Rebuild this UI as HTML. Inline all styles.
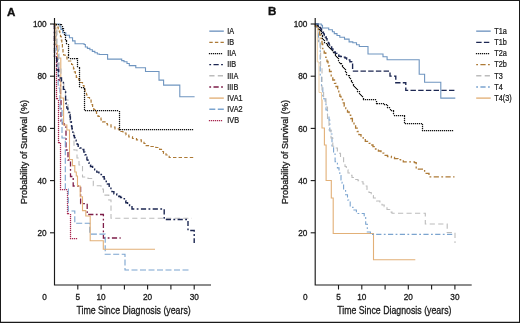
<!DOCTYPE html>
<html><head><meta charset="utf-8"><title>Survival curves</title>
<style>html,body{margin:0;padding:0;background:#fff;}svg{display:block;will-change:transform;font-family:"Liberation Sans",sans-serif;}</style>
</head><body>
<svg width="520" height="323" viewBox="0 0 520 323">
<rect x="0" y="0" width="520" height="323" fill="#fff"/>
<text x="7.0" y="15.5" font-size="11.6" font-weight="bold" fill="#111" stroke="#111" stroke-width="0.35" font-family="Liberation Sans, sans-serif">A</text>
<text x="268.0" y="15.3" font-size="11.6" font-weight="bold" fill="#111" stroke="#111" stroke-width="0.35" font-family="Liberation Sans, sans-serif">B</text>
<path d="M53.88,23.88h1.25v1.25h-1.25zM53.88,25.88h1.25v1.25h-1.25zM53.88,27.88h1.25v1.25h-1.25zM53.88,29.88h1.25v1.25h-1.25zM53.88,31.88h1.25v1.25h-1.25zM53.88,33.88h1.25v1.25h-1.25zM53.88,35.88h1.25v1.25h-1.25zM53.88,37.88h1.25v1.25h-1.25zM53.88,39.88h1.25v1.25h-1.25zM53.88,41.88h1.25v1.25h-1.25zM53.88,43.88h1.25v1.25h-1.25zM53.88,45.88h1.25v1.25h-1.25zM53.88,47.88h1.25v1.25h-1.25zM53.88,49.88h1.25v1.25h-1.25zM53.88,51.88h1.25v1.25h-1.25zM53.88,53.88h1.25v1.25h-1.25zM53.88,55.88h1.25v1.25h-1.25zM55.88,55.88h1.25v1.25h-1.25zM55.88,57.88h1.25v1.25h-1.25zM55.88,59.88h1.25v1.25h-1.25zM55.88,61.88h1.25v1.25h-1.25zM55.88,63.88h1.25v1.25h-1.25zM55.88,65.88h1.25v1.25h-1.25zM55.88,67.88h1.25v1.25h-1.25zM55.88,69.88h1.25v1.25h-1.25zM55.88,71.88h1.25v1.25h-1.25zM55.88,73.88h1.25v1.25h-1.25zM55.88,75.88h1.25v1.25h-1.25zM55.88,77.88h1.25v1.25h-1.25zM55.88,79.88h1.25v1.25h-1.25zM55.88,81.88h1.25v1.25h-1.25zM55.88,83.88h1.25v1.25h-1.25zM55.88,85.88h1.25v1.25h-1.25zM55.88,87.88h1.25v1.25h-1.25zM55.88,89.88h1.25v1.25h-1.25zM55.88,91.88h1.25v1.25h-1.25zM55.88,93.88h1.25v1.25h-1.25zM55.88,95.88h1.25v1.25h-1.25zM55.88,97.88h1.25v1.25h-1.25zM56.88,97.88h1.25v1.25h-1.25zM57.88,99.88h1.25v1.25h-1.25zM57.88,101.88h1.25v1.25h-1.25zM57.88,103.88h1.25v1.25h-1.25zM57.88,105.88h1.25v1.25h-1.25zM57.88,107.88h1.25v1.25h-1.25zM57.88,109.88h1.25v1.25h-1.25zM57.88,111.88h1.25v1.25h-1.25zM57.88,113.88h1.25v1.25h-1.25zM57.88,115.88h1.25v1.25h-1.25zM57.88,117.88h1.25v1.25h-1.25zM57.88,119.88h1.25v1.25h-1.25zM57.88,121.88h1.25v1.25h-1.25zM57.88,123.88h1.25v1.25h-1.25zM57.88,125.88h1.25v1.25h-1.25zM57.88,127.88h1.25v1.25h-1.25zM57.88,129.88h1.25v1.25h-1.25zM57.88,131.88h1.25v1.25h-1.25zM57.88,133.88h1.25v1.25h-1.25zM57.88,135.88h1.25v1.25h-1.25zM57.88,137.88h1.25v1.25h-1.25zM57.88,139.88h1.25v1.25h-1.25zM57.88,141.88h1.25v1.25h-1.25zM58.88,141.88h1.25v1.25h-1.25zM59.88,142.88h1.25v1.25h-1.25zM59.88,144.88h1.25v1.25h-1.25zM59.88,146.88h1.25v1.25h-1.25zM59.88,148.88h1.25v1.25h-1.25zM59.88,150.88h1.25v1.25h-1.25zM59.88,152.88h1.25v1.25h-1.25zM59.88,154.88h1.25v1.25h-1.25zM59.88,156.88h1.25v1.25h-1.25zM59.88,158.88h1.25v1.25h-1.25zM59.88,160.88h1.25v1.25h-1.25zM59.88,162.88h1.25v1.25h-1.25zM59.88,164.88h1.25v1.25h-1.25zM59.88,166.88h1.25v1.25h-1.25zM59.88,168.88h1.25v1.25h-1.25zM59.88,170.88h1.25v1.25h-1.25zM59.88,172.88h1.25v1.25h-1.25zM59.88,174.88h1.25v1.25h-1.25zM59.88,176.88h1.25v1.25h-1.25zM59.88,178.88h1.25v1.25h-1.25zM59.88,180.88h1.25v1.25h-1.25zM59.88,182.88h1.25v1.25h-1.25zM59.88,184.88h1.25v1.25h-1.25zM59.88,186.88h1.25v1.25h-1.25zM59.88,188.88h1.25v1.25h-1.25zM61.88,188.88h1.25v1.25h-1.25zM63.88,188.88h1.25v1.25h-1.25zM65.88,188.88h1.25v1.25h-1.25zM66.88,190.88h1.25v1.25h-1.25zM66.88,192.88h1.25v1.25h-1.25zM66.88,194.88h1.25v1.25h-1.25zM66.88,196.88h1.25v1.25h-1.25zM66.88,198.88h1.25v1.25h-1.25zM66.88,200.88h1.25v1.25h-1.25zM66.88,202.88h1.25v1.25h-1.25zM66.88,204.88h1.25v1.25h-1.25zM66.88,206.88h1.25v1.25h-1.25zM66.88,208.88h1.25v1.25h-1.25zM66.88,210.88h1.25v1.25h-1.25zM66.88,212.88h1.25v1.25h-1.25zM67.88,212.88h1.25v1.25h-1.25zM69.88,213.88h1.25v1.25h-1.25zM69.88,215.88h1.25v1.25h-1.25zM69.88,217.88h1.25v1.25h-1.25zM69.88,219.88h1.25v1.25h-1.25zM69.88,221.88h1.25v1.25h-1.25zM69.88,223.88h1.25v1.25h-1.25zM69.88,225.88h1.25v1.25h-1.25zM69.88,227.88h1.25v1.25h-1.25zM69.88,229.88h1.25v1.25h-1.25zM69.88,231.88h1.25v1.25h-1.25zM69.88,233.88h1.25v1.25h-1.25zM69.88,235.88h1.25v1.25h-1.25zM69.88,237.88h1.25v1.25h-1.25zM71.88,237.88h1.25v1.25h-1.25zM73.88,237.88h1.25v1.25h-1.25zM75.88,237.88h1.25v1.25h-1.25z" fill="#a8264f"/>
<path d="M54.5,24 V46 H57 V64 H58.6 V80 H60.5 V100 H61 V121 H63 V124 H64.4 V127 H66 V150 H68 V160 H70.5 V176.5 H73.2 V186 H80.6 V203.6 H87.2 V214.5 H103.4 V238 H120.7" fill="none" stroke="#7d1d48" stroke-width="1.3" stroke-dasharray="5.2 2.4 1.8 2.4"/>
<path d="M54.5,24 V30 H56.5 V50 H58.2 V88 H60 V110 H62 V138 H65.3 V189 H68.3 V211 H74.8 V223.3 H89.8 V234.1 H105.2 V254.3 H125 V270 H190" fill="none" stroke="#7ba4cf" stroke-width="1.1" stroke-dasharray="6 2.5"/>
<path d="M54.5,24 V28 H56 V45 H57.5 V58 H60.8 V98 H63.6 V125 H66.9 V130 H69.5 V159.5 H72.4 V165.6 H74.8 V172 H76.3 V176 H77.5 V186 H80.2 V196.7 H82.5 V210.6 H85.8 V216 H90.2 V240.7 H103.3 V249.3 H155" fill="none" stroke="#e2b077" stroke-width="1.1"/>
<path d="M54.5,24 V30 H57 V45 H59 V68 H61 V81 H63.8 V90 H65.5 V100 H68 V113 H70 V122 H72 V130 H74 V150 H77 V158 H79 V165 H82.5 V177 H88 V178.5 H93.3 V185.8 H101 V189 H103.4 V195.1 H108.8 V200 H111 V218.3 H192" fill="none" stroke="#bcbcbc" stroke-width="1.1" stroke-dasharray="5.2 3.3"/>
<path d="M54.5,24 H59.5 H59.98 V26.75 H60.92 V29.50 H61.4 H62.65 V32.70 H63.9 H65.75 V35.30 H67.6 H69.45 V37.80 H71.3 H72.55 V40.90 H73.8 H75.05 V43.80 H76.3 H83.7 H84.10 V44.50 H84.5 H85.35 V47.00 H86.2 H87.42 V48.40 H89.88 V49.80 H91.1 H92.35 V51.40 H93.6 H94.85 V52.70 H97.35 V54.00 H98.6 H99.30 V54.50 H100 H107.6 V59.1 H121.7 V60.6 H124 V61.7 H127 V63.5 H129.3 V65.6 H135.8 V67.8 H145.5 V71.5 H159 V80.1 H163.6 V85.1 H179.8 V96.8 H194.6" fill="none" stroke="#6f95c0" stroke-width="1.1"/>
<path d="M54.5,24 V58 H56.8 V70 H58.6 V78 H61.5 V81 H63.4 V89.4 H65.6 V100 H65.77 V103.00 H66.12 V106.00 H66.3 H66.82 V108.13 H67.85 V110.27 H68.88 V112.40 H69.4 H69.60 V114.73 H70.00 V117.05 H70.40 V119.38 H70.80 V121.70 H71 H71.19 V124.03 H71.56 V126.35 H71.94 V128.68 H72.31 V131.00 H72.5 H72.89 V133.30 H73.66 V135.60 H74.44 V137.90 H75.21 V140.20 H75.6 H76.12 V142.27 H77.15 V144.33 H78.18 V146.40 H78.7 H79.85 V147.95 H82.15 V149.50 H83.3 H83.82 V152.10 H84.85 V154.70 H85.88 V157.30 H86.4 H86.92 V159.87 H87.95 V162.43 H88.98 V165.00 H89.5 H90.53 V166.57 H92.60 V168.13 H94.67 V169.70 H95.7 H96.78 V172.10 H98.92 V174.50 H100 H101.40 V176.75 H104.20 V179.00 H105.6 H106.20 V181.50 H107.40 V184.00 H108 H109.20 V187.40 H110.4 H110.93 V189.50 H111.97 V191.60 H112.5 H113.90 V193.70 H116.70 V195.80 H118.1 H118.80 V196.50 H119.5 H120.55 V197.55 H122.65 V198.60 H123.7 H124.40 V200.65 H125.80 V202.70 H126.5 H127.53 V204.10 H129.57 V205.50 H130.6 H132.00 V209.00 H133.4 H164.2 V219.5 H188 V230.5 H194.2 V243" fill="none" stroke="#1c2752" stroke-width="1.4" stroke-dasharray="5.2 2.4 1.8 2.4"/>
<path d="M54.5,24 H56 V25.5 H57.4 V27 H58.2 V29 H59 V31 H59.8 V33.5 H60.5 V36.5 H61.2 V40 H61.8 V44 H62.4 V48 H63 V52 H63.6 V55 H65.1 V57 H67 V59 H68.5 V61 H70.7 V62.5 H71.6 V64.5 H72.6 V66.3 H73.5 V69 H74.4 V71.8 H75.4 V74.5 H76.3 V77.4 H78.8 V79.8 H80.5 V82.5 H82.5 V85.5 H84 V89 H85 V92.2 H86.5 V95 H88 V97.5 H89.5 V100.1 H91.1 V104.6 H92.6 V107 H93.8 V109.5 H94.9 V111.5 H96.5 V113.5 H98 V116.4 H100 V118 H101 V120 H102.6 V121.8 H105 V123.5 H107.3 V124.9 H111 V127 H115 V128.8 H119.2 V130.2 H121 V131.5 H123 V133 H126 V135 H128.8 V136.9 H132.5 V138.5 H136.5 V139.8 H141.3 V141.7 H144 V143.5 H146.2 V145.6 H150 V146.5 H155.8 V147.5 H159.6 V149.4 H161.5 V151.5 H163.5 V153.3 H166 V155 H169.2 V157.5 H194.5" fill="none" stroke="#ad7a36" stroke-width="1.2" stroke-dasharray="3.4 2.2"/>
<path d="M53.88,23.88h1.25v1.25h-1.25zM55.88,23.88h1.25v1.25h-1.25zM57.88,23.88h1.25v1.25h-1.25zM59.88,23.88h1.25v1.25h-1.25zM60.88,23.88h1.25v1.25h-1.25zM61.88,25.88h1.25v1.25h-1.25zM61.88,27.88h1.25v1.25h-1.25zM62.88,27.88h1.25v1.25h-1.25zM62.88,29.88h1.25v1.25h-1.25zM63.88,31.88h1.25v1.25h-1.25zM63.88,33.88h1.25v1.25h-1.25zM64.88,34.88h1.25v1.25h-1.25zM64.88,36.88h1.25v1.25h-1.25zM64.88,38.88h1.25v1.25h-1.25zM65.88,39.88h1.25v1.25h-1.25zM65.88,40.88h1.25v1.25h-1.25zM65.88,42.88h1.25v1.25h-1.25zM67.88,43.88h1.25v1.25h-1.25zM67.88,45.88h1.25v1.25h-1.25zM67.88,47.88h1.25v1.25h-1.25zM67.88,49.88h1.25v1.25h-1.25zM67.88,51.88h1.25v1.25h-1.25zM67.88,53.88h1.25v1.25h-1.25zM67.88,54.88h1.25v1.25h-1.25zM67.88,56.88h1.25v1.25h-1.25zM69.88,57.88h1.25v1.25h-1.25zM71.88,57.88h1.25v1.25h-1.25zM73.88,57.88h1.25v1.25h-1.25zM75.88,57.88h1.25v1.25h-1.25zM76.88,57.88h1.25v1.25h-1.25zM76.88,59.88h1.25v1.25h-1.25zM76.88,61.88h1.25v1.25h-1.25zM76.88,63.88h1.25v1.25h-1.25zM76.88,65.88h1.25v1.25h-1.25zM78.88,66.88h1.25v1.25h-1.25zM78.88,67.88h1.25v1.25h-1.25zM78.88,69.88h1.25v1.25h-1.25zM78.88,71.88h1.25v1.25h-1.25zM78.88,73.88h1.25v1.25h-1.25zM78.88,75.88h1.25v1.25h-1.25zM78.88,77.88h1.25v1.25h-1.25zM78.88,79.88h1.25v1.25h-1.25zM78.88,81.88h1.25v1.25h-1.25zM78.88,83.88h1.25v1.25h-1.25zM78.88,85.88h1.25v1.25h-1.25zM80.88,86.88h1.25v1.25h-1.25zM82.88,86.88h1.25v1.25h-1.25zM83.88,87.88h1.25v1.25h-1.25zM83.88,88.88h1.25v1.25h-1.25zM83.88,90.88h1.25v1.25h-1.25zM83.88,92.88h1.25v1.25h-1.25zM83.88,94.88h1.25v1.25h-1.25zM83.88,96.88h1.25v1.25h-1.25zM83.88,98.88h1.25v1.25h-1.25zM83.88,100.88h1.25v1.25h-1.25zM83.88,102.88h1.25v1.25h-1.25zM83.88,104.88h1.25v1.25h-1.25zM83.88,106.88h1.25v1.25h-1.25zM83.88,108.88h1.25v1.25h-1.25zM84.88,109.88h1.25v1.25h-1.25zM86.88,109.88h1.25v1.25h-1.25zM88.88,109.88h1.25v1.25h-1.25zM90.88,109.88h1.25v1.25h-1.25zM92.88,109.88h1.25v1.25h-1.25zM94.88,109.88h1.25v1.25h-1.25zM96.88,109.88h1.25v1.25h-1.25zM98.88,109.88h1.25v1.25h-1.25zM100.88,109.88h1.25v1.25h-1.25zM102.88,109.88h1.25v1.25h-1.25zM104.88,109.88h1.25v1.25h-1.25zM106.88,109.88h1.25v1.25h-1.25zM108.88,109.88h1.25v1.25h-1.25zM110.88,109.88h1.25v1.25h-1.25zM112.88,109.88h1.25v1.25h-1.25zM114.88,109.88h1.25v1.25h-1.25zM116.88,109.88h1.25v1.25h-1.25zM118.88,110.88h1.25v1.25h-1.25zM118.88,112.88h1.25v1.25h-1.25zM118.88,114.88h1.25v1.25h-1.25zM118.88,116.88h1.25v1.25h-1.25zM118.88,118.88h1.25v1.25h-1.25zM118.88,120.88h1.25v1.25h-1.25zM118.88,122.88h1.25v1.25h-1.25zM118.88,124.88h1.25v1.25h-1.25zM118.88,126.88h1.25v1.25h-1.25zM118.88,128.88h1.25v1.25h-1.25zM119.88,128.88h1.25v1.25h-1.25zM121.88,128.88h1.25v1.25h-1.25zM123.88,128.88h1.25v1.25h-1.25zM125.88,128.88h1.25v1.25h-1.25zM127.88,128.88h1.25v1.25h-1.25zM129.88,128.88h1.25v1.25h-1.25zM131.88,128.88h1.25v1.25h-1.25zM133.88,128.88h1.25v1.25h-1.25zM135.88,128.88h1.25v1.25h-1.25zM137.88,128.88h1.25v1.25h-1.25zM139.88,128.88h1.25v1.25h-1.25zM141.88,128.88h1.25v1.25h-1.25zM143.88,128.88h1.25v1.25h-1.25zM145.88,128.88h1.25v1.25h-1.25zM147.88,128.88h1.25v1.25h-1.25zM149.88,128.88h1.25v1.25h-1.25zM151.88,128.88h1.25v1.25h-1.25zM153.88,128.88h1.25v1.25h-1.25zM155.88,128.88h1.25v1.25h-1.25zM157.88,128.88h1.25v1.25h-1.25zM159.88,128.88h1.25v1.25h-1.25zM161.88,128.88h1.25v1.25h-1.25zM163.88,128.88h1.25v1.25h-1.25zM165.88,128.88h1.25v1.25h-1.25zM167.88,128.88h1.25v1.25h-1.25zM169.88,128.88h1.25v1.25h-1.25zM171.88,128.88h1.25v1.25h-1.25zM173.88,128.88h1.25v1.25h-1.25zM175.88,128.88h1.25v1.25h-1.25zM177.88,128.88h1.25v1.25h-1.25zM179.88,128.88h1.25v1.25h-1.25zM181.88,128.88h1.25v1.25h-1.25zM183.88,128.88h1.25v1.25h-1.25zM185.88,128.88h1.25v1.25h-1.25zM187.88,128.88h1.25v1.25h-1.25zM189.88,128.88h1.25v1.25h-1.25zM191.88,128.88h1.25v1.25h-1.25z" fill="#111111"/>
<path d="M321.5,100 H322 V128 H324.4 V145 H326.1 V180.5 H331.3 V198 H333.2 V233.5 H373.5 V259.8 H415.3" fill="none" stroke="#e2b077" stroke-width="1.1"/>
<path d="M315.2,24 H317.3 V62 H319 V92.5 H321.5 V100.5" fill="none" stroke="#efcfa5" stroke-width="1.0"/>
<path d="M315.2,24 H316.5 V27 H318.5 V42 H320.2 V75 H321.5 V86 H322.8 V98.7 H325.2 V104 H326 V110 H327.5 V115.5 H329 V120.1 H329.8 V131 H331.3 V134 H332 V147.7 H333.6 V154 H335.1 V161.7 H337.4 V167.9 H339 V172 H339.8 V175.6 H341 V180 H342.1 V183.3 H343.6 V190 H345.6 V194.8 H347.5 V200 H350.2 V207.2 H353 V210 H356.4 V213.5 H364.2 V217 H365.7 V224.2 H367.3 V232 H370.4 V234.4 H454.5" fill="none" stroke="#7ba4cf" stroke-width="1.1" stroke-dasharray="5.2 2.4 1.8 2.4"/>
<path d="M315.2,24 H317 V30 H319 V45 H320.6 V66 H322 V91 H323.6 V98 H326 V107 H327.5 V120 H329 V130 H331 V138 H332.8 V146.2 H334.4 V148 H337.4 V153.2 H340.5 V157.8 H343.6 V163 H345 V166.5 H346.3 V169.8 H348 V173 H349.5 V175.2 H352 V177.5 H355 V179.5 H358 V180.8 H361.5 V181.7 H363 V184 H364.7 V186 H367 V189.5 H369 V192.5 H371.2 V195.5 H373.4 V198 H376.5 V201 H379.9 V203.4 H382 V205 H384.2 V206.6 H387 V209.5 H389.7 V212.1 H392 V213.2 H425.3 V224 H447.2 V232.5 H455 V243" fill="none" stroke="#bcbcbc" stroke-width="1.1" stroke-dasharray="5.2 3.3"/>
<path d="M315.2,24 V26 H317 V29 H318.5 V32 H319.7 V35 H321 V38.5 H322 V44 H322.7 V48.7 H324.2 V53 H325.8 V57.3 H327 V61.5 H328 V66 H329.5 V71.5 H331.2 V76.8 H332.8 V80 H334.5 V83.3 H336 V86.5 H337.7 V89.8 H338.8 V93 H339.9 V96.3 H341 V99.5 H342.6 V102.8 H344.2 V106 H345.8 V108.7 H347.5 V112 H349.1 V115.2 H350.7 V118.5 H352.4 V121.7 H354 V125 H355.6 V128.2 H357.2 V131.5 H358.9 V134.7 H361 V137 H363.2 V139 H365.3 V141.3 H367.5 V143.4 H370 V145 H373 V146.6 H375.5 V149 H378.4 V151 H381 V153.2 H383.8 V155.3 H387.5 V156.5 H391.4 V157.5 H394.5 V158.6 H397.9 V159.7 H400.6 V160.8 H403.3 V161.8 H414.5 V162.6 H416.2 V169.2 H424.6 V173.3 H429 V176.9 H454.5" fill="none" stroke="#ad7a36" stroke-width="1.3" stroke-dasharray="5.2 2.4 1.8 2.4"/>
<path d="M314.88,23.88h1.25v1.25h-1.25zM316.88,23.88h1.25v1.25h-1.25zM316.88,24.88h1.25v1.25h-1.25zM317.88,25.88h1.25v1.25h-1.25zM318.88,26.88h1.25v1.25h-1.25zM318.88,28.88h1.25v1.25h-1.25zM319.88,29.88h1.25v1.25h-1.25zM320.88,30.88h1.25v1.25h-1.25zM320.88,32.88h1.25v1.25h-1.25zM321.88,34.88h1.25v1.25h-1.25zM321.88,35.88h1.25v1.25h-1.25zM321.88,37.88h1.25v1.25h-1.25zM322.88,38.88h1.25v1.25h-1.25zM323.88,39.88h1.25v1.25h-1.25zM323.88,41.88h1.25v1.25h-1.25zM325.88,42.88h1.25v1.25h-1.25zM326.88,43.88h1.25v1.25h-1.25zM326.88,44.88h1.25v1.25h-1.25zM327.88,45.88h1.25v1.25h-1.25zM328.88,46.88h1.25v1.25h-1.25zM329.88,47.88h1.25v1.25h-1.25zM330.88,48.88h1.25v1.25h-1.25zM331.88,49.88h1.25v1.25h-1.25zM332.88,51.88h1.25v1.25h-1.25zM333.88,51.88h1.25v1.25h-1.25zM334.88,53.88h1.25v1.25h-1.25zM334.88,54.88h1.25v1.25h-1.25zM335.88,55.88h1.25v1.25h-1.25zM336.88,56.88h1.25v1.25h-1.25zM337.88,57.88h1.25v1.25h-1.25zM337.88,59.88h1.25v1.25h-1.25zM338.88,61.88h1.25v1.25h-1.25zM339.88,62.88h1.25v1.25h-1.25zM340.88,62.88h1.25v1.25h-1.25zM341.88,64.88h1.25v1.25h-1.25zM341.88,65.88h1.25v1.25h-1.25zM342.88,66.88h1.25v1.25h-1.25zM343.88,67.88h1.25v1.25h-1.25zM344.88,68.88h1.25v1.25h-1.25zM344.88,70.88h1.25v1.25h-1.25zM345.88,71.88h1.25v1.25h-1.25zM345.88,73.88h1.25v1.25h-1.25zM347.88,74.88h1.25v1.25h-1.25zM348.88,74.88h1.25v1.25h-1.25zM348.88,76.88h1.25v1.25h-1.25zM349.88,77.88h1.25v1.25h-1.25zM350.88,79.88h1.25v1.25h-1.25zM350.88,80.88h1.25v1.25h-1.25zM351.88,81.88h1.25v1.25h-1.25zM352.88,83.88h1.25v1.25h-1.25zM352.88,84.88h1.25v1.25h-1.25zM353.88,85.88h1.25v1.25h-1.25zM354.88,86.88h1.25v1.25h-1.25zM355.88,87.88h1.25v1.25h-1.25zM356.88,88.88h1.25v1.25h-1.25zM356.88,90.88h1.25v1.25h-1.25zM358.88,90.88h1.25v1.25h-1.25zM358.88,92.88h1.25v1.25h-1.25zM359.88,93.88h1.25v1.25h-1.25zM360.88,94.88h1.25v1.25h-1.25zM361.88,95.88h1.25v1.25h-1.25zM362.88,97.88h1.25v1.25h-1.25zM362.88,98.88h1.25v1.25h-1.25zM364.88,98.88h1.25v1.25h-1.25zM366.88,98.88h1.25v1.25h-1.25zM368.88,98.88h1.25v1.25h-1.25zM370.88,98.88h1.25v1.25h-1.25zM372.88,98.88h1.25v1.25h-1.25zM374.88,98.88h1.25v1.25h-1.25zM375.88,100.88h1.25v1.25h-1.25zM375.88,102.88h1.25v1.25h-1.25zM376.88,102.88h1.25v1.25h-1.25zM378.88,102.88h1.25v1.25h-1.25zM380.88,102.88h1.25v1.25h-1.25zM382.88,102.88h1.25v1.25h-1.25zM383.88,103.88h1.25v1.25h-1.25zM385.88,103.88h1.25v1.25h-1.25zM386.88,104.88h1.25v1.25h-1.25zM386.88,106.88h1.25v1.25h-1.25zM388.88,106.88h1.25v1.25h-1.25zM389.88,108.88h1.25v1.25h-1.25zM390.88,109.88h1.25v1.25h-1.25zM392.88,109.88h1.25v1.25h-1.25zM392.88,110.88h1.25v1.25h-1.25zM392.88,112.88h1.25v1.25h-1.25zM393.88,114.88h1.25v1.25h-1.25zM395.88,114.88h1.25v1.25h-1.25zM397.88,114.88h1.25v1.25h-1.25zM399.88,114.88h1.25v1.25h-1.25zM401.88,114.88h1.25v1.25h-1.25zM403.88,114.88h1.25v1.25h-1.25zM403.88,115.88h1.25v1.25h-1.25zM403.88,117.88h1.25v1.25h-1.25zM403.88,119.88h1.25v1.25h-1.25zM403.88,121.88h1.25v1.25h-1.25zM404.88,122.88h1.25v1.25h-1.25zM406.88,122.88h1.25v1.25h-1.25zM408.88,122.88h1.25v1.25h-1.25zM410.88,122.88h1.25v1.25h-1.25zM412.88,122.88h1.25v1.25h-1.25zM414.88,122.88h1.25v1.25h-1.25zM416.88,122.88h1.25v1.25h-1.25zM418.88,122.88h1.25v1.25h-1.25zM420.88,122.88h1.25v1.25h-1.25zM421.88,123.88h1.25v1.25h-1.25zM421.88,125.88h1.25v1.25h-1.25zM421.88,127.88h1.25v1.25h-1.25zM421.88,129.88h1.25v1.25h-1.25zM423.88,129.88h1.25v1.25h-1.25zM425.88,129.88h1.25v1.25h-1.25zM427.88,129.88h1.25v1.25h-1.25zM429.88,129.88h1.25v1.25h-1.25zM431.88,129.88h1.25v1.25h-1.25zM433.88,129.88h1.25v1.25h-1.25zM435.88,129.88h1.25v1.25h-1.25zM437.88,129.88h1.25v1.25h-1.25zM439.88,129.88h1.25v1.25h-1.25zM441.88,129.88h1.25v1.25h-1.25zM443.88,129.88h1.25v1.25h-1.25zM445.88,129.88h1.25v1.25h-1.25zM447.88,129.88h1.25v1.25h-1.25zM449.88,129.88h1.25v1.25h-1.25zM451.88,129.88h1.25v1.25h-1.25z" fill="#111111"/>
<path d="M315.2,24 H317.5 H318.18 V25.70 H319.52 V27.40 H320.2 H320.66 V29.02 H321.59 V30.65 H322.51 V32.27 H323.44 V33.90 H323.9 H324.37 V35.47 H325.30 V37.03 H326.23 V38.60 H326.7 H327.02 V40.13 H327.65 V41.67 H328.28 V43.20 H328.6 H329.22 V45.07 H330.45 V46.93 H331.68 V48.80 H332.3 H332.92 V50.33 H334.15 V51.87 H335.38 V53.40 H336 H336.93 V54.80 H338.77 V56.20 H339.7 H340.47 V56.50 H342.00 V56.80 H343.53 V57.10 H344.3 H345.08 V58.03 H346.65 V58.97 H348.22 V59.90 H349 H349.90 V61.75 H351.70 V63.60 H352.6 V71.1 H390 V76.1 H395.8 V82.7 H405.8 V90.4 H455.3" fill="none" stroke="#1c2752" stroke-width="1.35" stroke-dasharray="5.4 2.3"/>
<path d="M315.2,24 H321.3 V25.2 H322.5 V28 H328.7 V29.8 H332.4 V31.7 H334.3 V33.6 H337 V35.5 H339.8 V37.3 H344.5 V39.1 H349.1 V41.9 H352.8 V42.8 H356.5 V44.7 H359.3 V46.5 H368 V54 H383 V56.7 H387.1 V59.7 H419.2 V74.2 H424.6 V82.2 H440.8 V98.1 H455.3" fill="none" stroke="#6f95c0" stroke-width="1.1"/>
<path d="M54.5,18.0 V285.0 H211.0" fill="none" stroke="#1a1a1a" stroke-width="1.15"/>
<line x1="50.0" y1="24.0" x2="54.5" y2="24.0" stroke="#1a1a1a" stroke-width="1.1"/>
<text x="46.70" y="27.20" text-anchor="end" font-size="8.4" fill="#1a1a1a" stroke="#1a1a1a" stroke-width="0.3" stroke-linejoin="round" font-family="Liberation Sans, sans-serif" textLength="13.73" lengthAdjust="spacingAndGlyphs" >100</text>
<line x1="50.0" y1="76.2" x2="54.5" y2="76.2" stroke="#1a1a1a" stroke-width="1.1"/>
<text x="46.70" y="79.40" text-anchor="end" font-size="8.4" fill="#1a1a1a" stroke="#1a1a1a" stroke-width="0.3" stroke-linejoin="round" font-family="Liberation Sans, sans-serif" textLength="9.16" lengthAdjust="spacingAndGlyphs" >80</text>
<line x1="50.0" y1="128.4" x2="54.5" y2="128.4" stroke="#1a1a1a" stroke-width="1.1"/>
<text x="46.70" y="131.60" text-anchor="end" font-size="8.4" fill="#1a1a1a" stroke="#1a1a1a" stroke-width="0.3" stroke-linejoin="round" font-family="Liberation Sans, sans-serif" textLength="9.16" lengthAdjust="spacingAndGlyphs" >60</text>
<line x1="50.0" y1="180.6" x2="54.5" y2="180.6" stroke="#1a1a1a" stroke-width="1.1"/>
<text x="46.70" y="183.80" text-anchor="end" font-size="8.4" fill="#1a1a1a" stroke="#1a1a1a" stroke-width="0.3" stroke-linejoin="round" font-family="Liberation Sans, sans-serif" textLength="9.16" lengthAdjust="spacingAndGlyphs" >40</text>
<line x1="50.0" y1="232.8" x2="54.5" y2="232.8" stroke="#1a1a1a" stroke-width="1.1"/>
<text x="46.70" y="236.00" text-anchor="end" font-size="8.4" fill="#1a1a1a" stroke="#1a1a1a" stroke-width="0.3" stroke-linejoin="round" font-family="Liberation Sans, sans-serif" textLength="9.16" lengthAdjust="spacingAndGlyphs" >20</text>
<line x1="77.8" y1="285.0" x2="77.8" y2="289.5" stroke="#1a1a1a" stroke-width="1.1"/>
<line x1="101.1" y1="285.0" x2="101.1" y2="289.5" stroke="#1a1a1a" stroke-width="1.1"/>
<line x1="124.4" y1="285.0" x2="124.4" y2="289.5" stroke="#1a1a1a" stroke-width="1.1"/>
<line x1="147.6" y1="285.0" x2="147.6" y2="289.5" stroke="#1a1a1a" stroke-width="1.1"/>
<line x1="170.9" y1="285.0" x2="170.9" y2="289.5" stroke="#1a1a1a" stroke-width="1.1"/>
<line x1="194.2" y1="285.0" x2="194.2" y2="289.5" stroke="#1a1a1a" stroke-width="1.1"/>
<text x="77.78" y="300.30" text-anchor="middle" font-size="8.4" fill="#1a1a1a" stroke="#1a1a1a" stroke-width="0.3" stroke-linejoin="round" font-family="Liberation Sans, sans-serif" textLength="4.58" lengthAdjust="spacingAndGlyphs" >5</text>
<text x="101.07" y="300.30" text-anchor="middle" font-size="8.4" fill="#1a1a1a" stroke="#1a1a1a" stroke-width="0.3" stroke-linejoin="round" font-family="Liberation Sans, sans-serif" textLength="9.16" lengthAdjust="spacingAndGlyphs" >10</text>
<text x="147.64" y="300.30" text-anchor="middle" font-size="8.4" fill="#1a1a1a" stroke="#1a1a1a" stroke-width="0.3" stroke-linejoin="round" font-family="Liberation Sans, sans-serif" textLength="9.16" lengthAdjust="spacingAndGlyphs" >20</text>
<text x="194.21" y="300.30" text-anchor="middle" font-size="8.4" fill="#1a1a1a" stroke="#1a1a1a" stroke-width="0.3" stroke-linejoin="round" font-family="Liberation Sans, sans-serif" textLength="9.16" lengthAdjust="spacingAndGlyphs" >30</text>
<text x="44.60" y="300.30" text-anchor="middle" font-size="8.4" fill="#1a1a1a" stroke="#1a1a1a" stroke-width="0.3" stroke-linejoin="round" font-family="Liberation Sans, sans-serif" textLength="4.58" lengthAdjust="spacingAndGlyphs" >0</text>
<text x="133.60" y="313.80" text-anchor="middle" font-size="10.3" fill="#1a1a1a" stroke="#1a1a1a" stroke-width="0.3" stroke-linejoin="round" font-family="Liberation Sans, sans-serif" textLength="114.30" lengthAdjust="spacingAndGlyphs" >Time Since Diagnosis (years)</text>
<text x="0.00" y="0.00" text-anchor="middle" font-size="9.8" fill="#1a1a1a" stroke="#1a1a1a" stroke-width="0.3" stroke-linejoin="round" font-family="Liberation Sans, sans-serif" textLength="104.00" lengthAdjust="spacingAndGlyphs" transform="translate(27.3,152.0) rotate(-90)">Probability of Survival (%)</text>
<path d="M315.2,18.0 V285.0 H471.7" fill="none" stroke="#1a1a1a" stroke-width="1.15"/>
<line x1="310.7" y1="24.0" x2="315.2" y2="24.0" stroke="#1a1a1a" stroke-width="1.1"/>
<text x="307.40" y="27.20" text-anchor="end" font-size="8.4" fill="#1a1a1a" stroke="#1a1a1a" stroke-width="0.3" stroke-linejoin="round" font-family="Liberation Sans, sans-serif" textLength="13.73" lengthAdjust="spacingAndGlyphs" >100</text>
<line x1="310.7" y1="76.2" x2="315.2" y2="76.2" stroke="#1a1a1a" stroke-width="1.1"/>
<text x="307.40" y="79.40" text-anchor="end" font-size="8.4" fill="#1a1a1a" stroke="#1a1a1a" stroke-width="0.3" stroke-linejoin="round" font-family="Liberation Sans, sans-serif" textLength="9.16" lengthAdjust="spacingAndGlyphs" >80</text>
<line x1="310.7" y1="128.4" x2="315.2" y2="128.4" stroke="#1a1a1a" stroke-width="1.1"/>
<text x="307.40" y="131.60" text-anchor="end" font-size="8.4" fill="#1a1a1a" stroke="#1a1a1a" stroke-width="0.3" stroke-linejoin="round" font-family="Liberation Sans, sans-serif" textLength="9.16" lengthAdjust="spacingAndGlyphs" >60</text>
<line x1="310.7" y1="180.6" x2="315.2" y2="180.6" stroke="#1a1a1a" stroke-width="1.1"/>
<text x="307.40" y="183.80" text-anchor="end" font-size="8.4" fill="#1a1a1a" stroke="#1a1a1a" stroke-width="0.3" stroke-linejoin="round" font-family="Liberation Sans, sans-serif" textLength="9.16" lengthAdjust="spacingAndGlyphs" >40</text>
<line x1="310.7" y1="232.8" x2="315.2" y2="232.8" stroke="#1a1a1a" stroke-width="1.1"/>
<text x="307.40" y="236.00" text-anchor="end" font-size="8.4" fill="#1a1a1a" stroke="#1a1a1a" stroke-width="0.3" stroke-linejoin="round" font-family="Liberation Sans, sans-serif" textLength="9.16" lengthAdjust="spacingAndGlyphs" >20</text>
<line x1="338.5" y1="285.0" x2="338.5" y2="289.5" stroke="#1a1a1a" stroke-width="1.1"/>
<line x1="361.8" y1="285.0" x2="361.8" y2="289.5" stroke="#1a1a1a" stroke-width="1.1"/>
<line x1="385.1" y1="285.0" x2="385.1" y2="289.5" stroke="#1a1a1a" stroke-width="1.1"/>
<line x1="408.3" y1="285.0" x2="408.3" y2="289.5" stroke="#1a1a1a" stroke-width="1.1"/>
<line x1="431.6" y1="285.0" x2="431.6" y2="289.5" stroke="#1a1a1a" stroke-width="1.1"/>
<line x1="454.9" y1="285.0" x2="454.9" y2="289.5" stroke="#1a1a1a" stroke-width="1.1"/>
<text x="338.49" y="300.30" text-anchor="middle" font-size="8.4" fill="#1a1a1a" stroke="#1a1a1a" stroke-width="0.3" stroke-linejoin="round" font-family="Liberation Sans, sans-serif" textLength="4.58" lengthAdjust="spacingAndGlyphs" >5</text>
<text x="361.77" y="300.30" text-anchor="middle" font-size="8.4" fill="#1a1a1a" stroke="#1a1a1a" stroke-width="0.3" stroke-linejoin="round" font-family="Liberation Sans, sans-serif" textLength="9.16" lengthAdjust="spacingAndGlyphs" >10</text>
<text x="408.34" y="300.30" text-anchor="middle" font-size="8.4" fill="#1a1a1a" stroke="#1a1a1a" stroke-width="0.3" stroke-linejoin="round" font-family="Liberation Sans, sans-serif" textLength="9.16" lengthAdjust="spacingAndGlyphs" >20</text>
<text x="454.91" y="300.30" text-anchor="middle" font-size="8.4" fill="#1a1a1a" stroke="#1a1a1a" stroke-width="0.3" stroke-linejoin="round" font-family="Liberation Sans, sans-serif" textLength="9.16" lengthAdjust="spacingAndGlyphs" >30</text>
<text x="305.30" y="300.30" text-anchor="middle" font-size="8.4" fill="#1a1a1a" stroke="#1a1a1a" stroke-width="0.3" stroke-linejoin="round" font-family="Liberation Sans, sans-serif" textLength="4.58" lengthAdjust="spacingAndGlyphs" >0</text>
<text x="394.30" y="313.80" text-anchor="middle" font-size="10.3" fill="#1a1a1a" stroke="#1a1a1a" stroke-width="0.3" stroke-linejoin="round" font-family="Liberation Sans, sans-serif" textLength="114.30" lengthAdjust="spacingAndGlyphs" >Time Since Diagnosis (years)</text>
<text x="0.00" y="0.00" text-anchor="middle" font-size="9.8" fill="#1a1a1a" stroke="#1a1a1a" stroke-width="0.3" stroke-linejoin="round" font-family="Liberation Sans, sans-serif" textLength="104.00" lengthAdjust="spacingAndGlyphs" transform="translate(288.0,152.0) rotate(-90)">Probability of Survival (%)</text>
<path d="M209.3,31.15 H223.8" fill="none" stroke="#6f95c0" stroke-width="1.35"/>
<text x="227.30" y="34.00" text-anchor="start" font-size="8.4" fill="#1a1a1a" stroke="#1a1a1a" stroke-width="0.24" stroke-linejoin="round" font-family="Liberation Sans, sans-serif" textLength="6.90" lengthAdjust="spacingAndGlyphs" >IA</text>
<path d="M209.3,42.31 H223.8" fill="none" stroke="#ad7a36" stroke-width="1.35" stroke-dasharray="3.4 2.2"/>
<text x="227.30" y="45.16" text-anchor="start" font-size="8.4" fill="#1a1a1a" stroke="#1a1a1a" stroke-width="0.24" stroke-linejoin="round" font-family="Liberation Sans, sans-serif" textLength="6.90" lengthAdjust="spacingAndGlyphs" >IB</text>
<path d="M208.88,52.88h1.25v1.25h-1.25zM210.88,52.88h1.25v1.25h-1.25zM212.88,52.88h1.25v1.25h-1.25zM214.88,52.88h1.25v1.25h-1.25zM216.88,52.88h1.25v1.25h-1.25zM218.88,52.88h1.25v1.25h-1.25zM220.88,52.88h1.25v1.25h-1.25z" fill="#111111"/>
<text x="227.30" y="56.32" text-anchor="start" font-size="8.4" fill="#1a1a1a" stroke="#1a1a1a" stroke-width="0.24" stroke-linejoin="round" font-family="Liberation Sans, sans-serif" textLength="8.94" lengthAdjust="spacingAndGlyphs" >IIA</text>
<path d="M209.3,64.63 H223.8" fill="none" stroke="#1c2752" stroke-width="1.35" stroke-dasharray="5.2 2.4 1.8 2.4" stroke-dashoffset="7.6"/>
<text x="227.30" y="67.48" text-anchor="start" font-size="8.4" fill="#1a1a1a" stroke="#1a1a1a" stroke-width="0.24" stroke-linejoin="round" font-family="Liberation Sans, sans-serif" textLength="8.94" lengthAdjust="spacingAndGlyphs" >IIB</text>
<path d="M209.3,75.79 H223.8" fill="none" stroke="#bcbcbc" stroke-width="1.35" stroke-dasharray="5.2 3.3"/>
<text x="227.30" y="78.64" text-anchor="start" font-size="8.4" fill="#1a1a1a" stroke="#1a1a1a" stroke-width="0.24" stroke-linejoin="round" font-family="Liberation Sans, sans-serif" textLength="10.97" lengthAdjust="spacingAndGlyphs" >IIIA</text>
<path d="M209.3,86.95 H223.8" fill="none" stroke="#7d1d48" stroke-width="1.35" stroke-dasharray="5.2 2.4 1.8 2.4" stroke-dashoffset="7.6"/>
<text x="227.30" y="89.80" text-anchor="start" font-size="8.4" fill="#1a1a1a" stroke="#1a1a1a" stroke-width="0.24" stroke-linejoin="round" font-family="Liberation Sans, sans-serif" textLength="10.97" lengthAdjust="spacingAndGlyphs" >IIIB</text>
<path d="M209.3,98.11 H223.8" fill="none" stroke="#e2b077" stroke-width="1.35"/>
<text x="227.30" y="100.96" text-anchor="start" font-size="8.4" fill="#1a1a1a" stroke="#1a1a1a" stroke-width="0.24" stroke-linejoin="round" font-family="Liberation Sans, sans-serif" textLength="15.30" lengthAdjust="spacingAndGlyphs" >IVA1</text>
<path d="M209.3,109.27 H223.8" fill="none" stroke="#7ba4cf" stroke-width="1.35" stroke-dasharray="6 2.5"/>
<text x="227.30" y="112.12" text-anchor="start" font-size="8.4" fill="#1a1a1a" stroke="#1a1a1a" stroke-width="0.24" stroke-linejoin="round" font-family="Liberation Sans, sans-serif" textLength="15.30" lengthAdjust="spacingAndGlyphs" >IVA2</text>
<path d="M208.88,119.88h1.25v1.25h-1.25zM210.88,119.88h1.25v1.25h-1.25zM212.88,119.88h1.25v1.25h-1.25zM214.88,119.88h1.25v1.25h-1.25zM216.88,119.88h1.25v1.25h-1.25zM218.88,119.88h1.25v1.25h-1.25zM220.88,119.88h1.25v1.25h-1.25z" fill="#a8264f"/>
<text x="227.30" y="123.28" text-anchor="start" font-size="8.4" fill="#1a1a1a" stroke="#1a1a1a" stroke-width="0.24" stroke-linejoin="round" font-family="Liberation Sans, sans-serif" textLength="11.78" lengthAdjust="spacingAndGlyphs" >IVB</text>
<path d="M476.2,31.15 H490.7" fill="none" stroke="#6f95c0" stroke-width="1.35"/>
<text x="494.20" y="34.00" text-anchor="start" font-size="8.4" fill="#1a1a1a" stroke="#1a1a1a" stroke-width="0.24" stroke-linejoin="round" font-family="Liberation Sans, sans-serif" textLength="12.59" lengthAdjust="spacingAndGlyphs" >T1a</text>
<path d="M476.2,42.31 H490.7" fill="none" stroke="#1c2752" stroke-width="1.35" stroke-dasharray="5.4 2.3"/>
<text x="494.20" y="45.16" text-anchor="start" font-size="8.4" fill="#1a1a1a" stroke="#1a1a1a" stroke-width="0.24" stroke-linejoin="round" font-family="Liberation Sans, sans-serif" textLength="12.59" lengthAdjust="spacingAndGlyphs" >T1b</text>
<path d="M475.88,52.88h1.25v1.25h-1.25zM477.88,52.88h1.25v1.25h-1.25zM479.88,52.88h1.25v1.25h-1.25zM481.88,52.88h1.25v1.25h-1.25zM483.88,52.88h1.25v1.25h-1.25zM485.88,52.88h1.25v1.25h-1.25zM487.88,52.88h1.25v1.25h-1.25z" fill="#111111"/>
<text x="494.20" y="56.32" text-anchor="start" font-size="8.4" fill="#1a1a1a" stroke="#1a1a1a" stroke-width="0.24" stroke-linejoin="round" font-family="Liberation Sans, sans-serif" textLength="12.59" lengthAdjust="spacingAndGlyphs" >T2a</text>
<path d="M476.2,64.63 H490.7" fill="none" stroke="#ad7a36" stroke-width="1.35" stroke-dasharray="5.2 2.4 1.8 2.4" stroke-dashoffset="7.6"/>
<text x="494.20" y="67.48" text-anchor="start" font-size="8.4" fill="#1a1a1a" stroke="#1a1a1a" stroke-width="0.24" stroke-linejoin="round" font-family="Liberation Sans, sans-serif" textLength="12.59" lengthAdjust="spacingAndGlyphs" >T2b</text>
<path d="M476.2,75.79 H490.7" fill="none" stroke="#bcbcbc" stroke-width="1.35" stroke-dasharray="5.2 3.3"/>
<text x="494.20" y="78.64" text-anchor="start" font-size="8.4" fill="#1a1a1a" stroke="#1a1a1a" stroke-width="0.24" stroke-linejoin="round" font-family="Liberation Sans, sans-serif" textLength="8.53" lengthAdjust="spacingAndGlyphs" >T3</text>
<path d="M476.2,86.95 H490.7" fill="none" stroke="#7ba4cf" stroke-width="1.35" stroke-dasharray="5.2 2.4 1.8 2.4" stroke-dashoffset="7.6"/>
<text x="494.20" y="89.80" text-anchor="start" font-size="8.4" fill="#1a1a1a" stroke="#1a1a1a" stroke-width="0.24" stroke-linejoin="round" font-family="Liberation Sans, sans-serif" textLength="8.53" lengthAdjust="spacingAndGlyphs" >T4</text>
<path d="M476.2,98.11 H490.7" fill="none" stroke="#e2b077" stroke-width="1.35"/>
<text x="494.20" y="100.96" text-anchor="start" font-size="8.4" fill="#1a1a1a" stroke="#1a1a1a" stroke-width="0.24" stroke-linejoin="round" font-family="Liberation Sans, sans-serif" textLength="17.46" lengthAdjust="spacingAndGlyphs" >T4(3)</text>
<rect x="0" y="0" width="520" height="1" fill="#1a1a1a"/>
<rect x="0" y="0" width="1" height="323" fill="#1a1a1a"/>
<rect x="519" y="0" width="1" height="323" fill="#1a1a1a"/>
<rect x="0" y="321.75" width="520" height="1.25" fill="#1a1a1a"/>
</svg>
</body></html>
